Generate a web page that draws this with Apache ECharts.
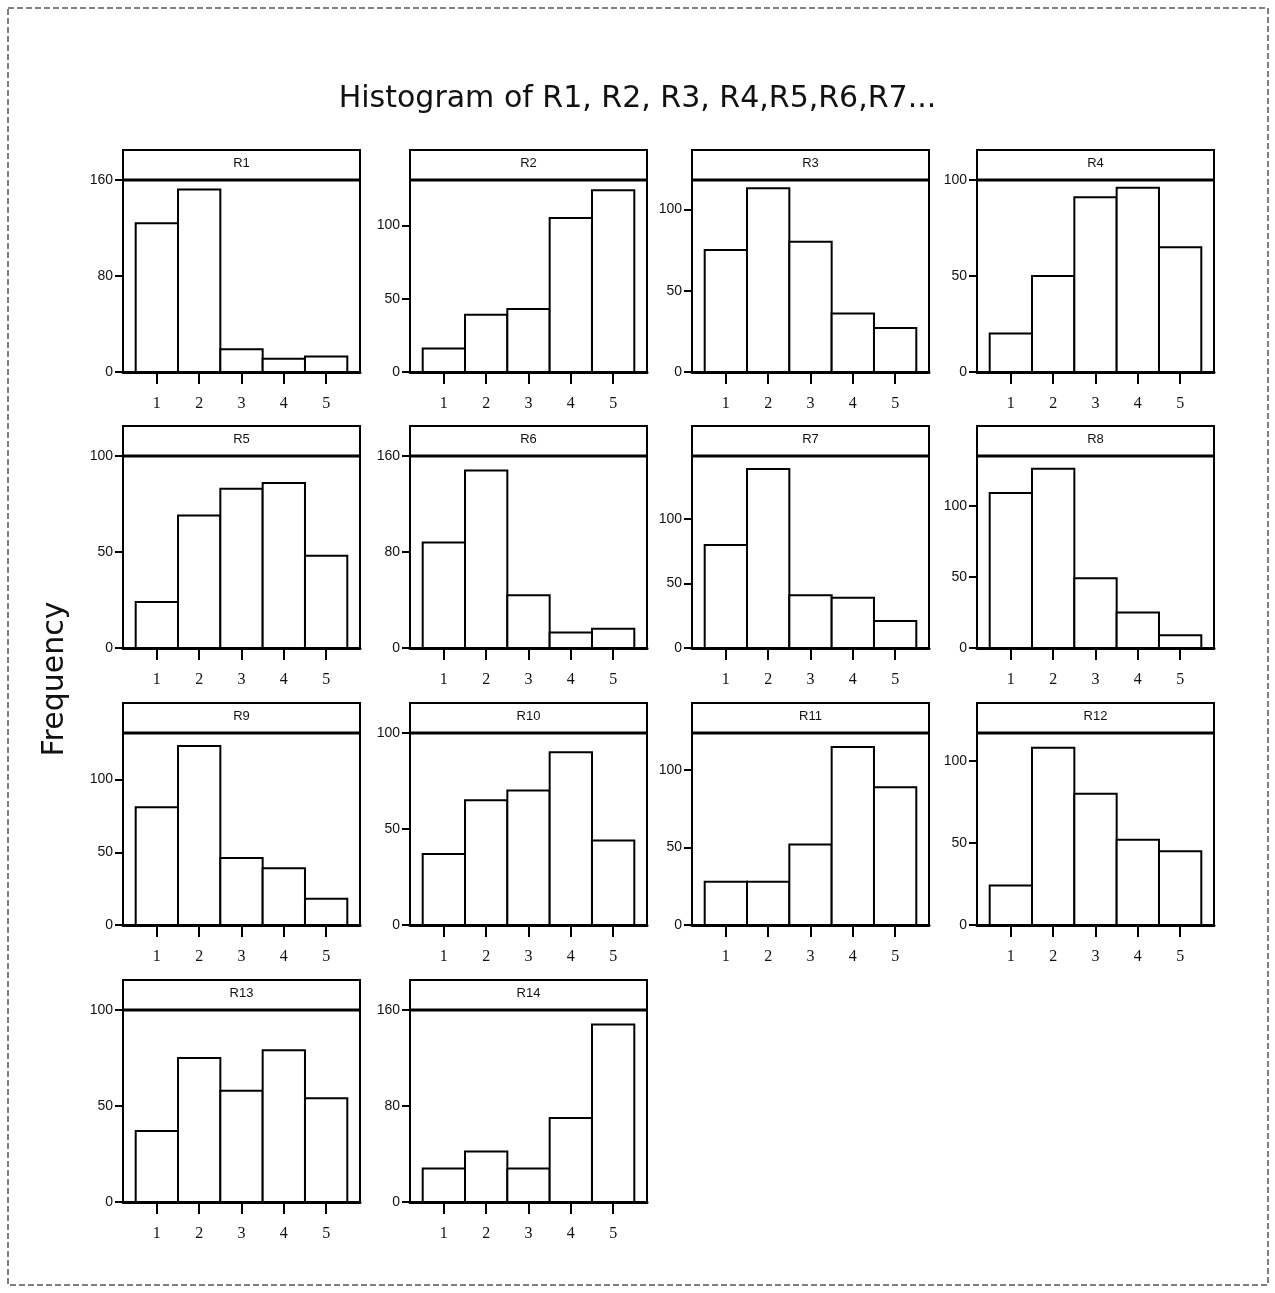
<!DOCTYPE html>
<html>
<head>
<meta charset="utf-8">
<title>Histogram of R1, R2, R3, R4,R5,R6,R7...</title>
<script src="https://cdn.jsdelivr.net/npm/echarts@6/dist/echarts.min.js"></script>
<style>
  html, body { margin: 0; padding: 0; background: #fff; }
  #chart { width: 1275px; height: 1293px; }
</style>
</head>
<body>
<div id="chart"></div>
<script>
// Response categories (bin centres) shared by every panel
const categories = [1, 2, 3, 4, 5];

// Frequency of each response, one list per item
const R1  = [124, 152, 19, 11, 13];
const R2  = [16, 39, 43, 105, 124];
const R3  = [75, 113, 80, 36, 27];
const R4  = [20, 50, 91, 96, 65];
const R5  = [24, 69, 83, 86, 48];
const R6  = [88, 148, 44, 13, 16];
const R7  = [80, 139, 41, 39, 21];
const R8  = [109, 126, 49, 25, 9];
const R9  = [81, 123, 46, 39, 18];
const R10 = [37, 65, 70, 90, 44];
const R11 = [28, 28, 52, 115, 89];
const R12 = [24, 108, 80, 52, 45];
const R13 = [37, 75, 58, 79, 54];
const R14 = [28, 42, 28, 70, 148];

const panelNames = ['R1', 'R2', 'R3', 'R4', 'R5', 'R6', 'R7', 'R8', 'R9', 'R10', 'R11', 'R12', 'R13', 'R14'];
const panelValues = [R1, R2, R3, R4, R5, R6, R7, R8, R9, R10, R11, R12, R13, R14];

// Frequency tick labels and the top of each panel's frequency scale
const ticksA = [0, 50, 100];
const ticksB = [0, 80, 160];
const panelTicks = [ticksB, ticksA, ticksA, ticksA, ticksA, ticksB, ticksA,
                    ticksA, ticksA, ticksA, ticksA, ticksA, ticksA, ticksB];
const axisMax = [160, 131, 118, 100, 100, 160, 149, 135, 132, 100, 124, 117, 100, 160];

// Panel grid geometry (pixels)
const colLeft = [123, 410, 692, 977];
const rowTop = [180, 456, 733, 1010];
const plotW = 237;
const plotH = 192;
const stripH = 30;

const grids = [], xAxes = [], yAxes = [], series = [], graphics = [];

panelNames.forEach((name, i) => {
  const col = i % 4, row = Math.floor(i / 4);
  const left = colLeft[col], top = rowTop[row];

  grids.push({
    left: left, top: top, width: plotW, height: plotH,
    show: true, borderColor: '#000', borderWidth: 2, backgroundColor: '#fff'
  });

  xAxes.push({
    gridIndex: i, type: 'value', min: 0.2, max: 5.8,
    splitLine: { show: false },
    axisLine: { show: true, onZero: false, lineStyle: { color: '#000', width: 3 } },
    axisTick: { show: true, customValues: categories, length: 12, lineStyle: { color: '#000', width: 2 } },
    axisLabel: { customValues: categories, margin: 24, color: '#111', fontSize: 16, fontFamily: 'Liberation Serif' }
  });

  yAxes.push({
    gridIndex: i, type: 'value', min: 0, max: axisMax[i],
    splitLine: { show: false },
    axisLine: { show: true, lineStyle: { color: '#000', width: 2 } },
    axisTick: { show: true, customValues: panelTicks[i], length: 8, lineStyle: { color: '#000', width: 2 } },
    axisLabel: { customValues: panelTicks[i], margin: 10, color: '#111', fontSize: 14, fontFamily: 'Liberation Sans Narrow, Liberation Sans' }
  });

  series.push({
    type: 'custom',
    name: name,
    xAxisIndex: i, yAxisIndex: i,
    clip: true,
    data: panelValues[i].map((v, k) => [categories[k], v]),
    encode: { x: 0, y: 1 },
    renderItem: (params, api) => {
      const x = api.value(0), y = api.value(1);
      const topLeft = api.coord([x - 0.5, y]);
      const bottomRight = api.coord([x + 0.5, 0]);
      return {
        type: 'rect',
        shape: {
          x: topLeft[0], y: topLeft[1],
          width: bottomRight[0] - topLeft[0],
          height: bottomRight[1] - topLeft[1]
        },
        style: { fill: '#fff', stroke: '#000', lineWidth: 2 }
      };
    }
  });

  // Panel header strip with the item name
  graphics.push({
    type: 'rect', z: 10,
    shape: { x: left, y: top - stripH, width: plotW, height: stripH },
    style: { fill: '#fff', stroke: '#000', lineWidth: 2 }
  });
  graphics.push({
    type: 'line', z: 11,
    shape: { x1: left, y1: top, x2: left + plotW, y2: top },
    style: { stroke: '#000', lineWidth: 3 }
  });
  graphics.push({
    type: 'text', z: 12,
    x: left + plotW / 2, y: top - stripH / 2 - 2,
    style: { text: name, fill: '#111', font: '13px "Liberation Sans Narrow", "Liberation Sans"', align: 'center', verticalAlign: 'middle' }
  });
});

// Outer frame of the figure
graphics.push({
  type: 'rect', z: 0,
  shape: { x: 8, y: 8, width: 1260, height: 1277 },
  style: { fill: 'none', stroke: '#555', lineWidth: 1.5, lineDash: [6, 3] }
});

// Shared frequency label
graphics.push({
  type: 'text', z: 12,
  x: 55, y: 679, rotation: Math.PI / 2,
  style: { text: 'Frequency', fill: '#111', font: '30px "DejaVu Sans"', align: 'center', verticalAlign: 'middle' }
});

const chart = echarts.init(document.getElementById('chart'), null, { renderer: 'canvas' });
chart.setOption({
  backgroundColor: '#fff',
  animation: false,
  title: {
    text: 'Histogram of R1, R2, R3, R4,R5,R6,R7...',
    left: 'center', top: 79,
    textStyle: { color: '#111', fontSize: 30, fontWeight: 'normal', fontFamily: 'DejaVu Sans' }
  },
  grid: grids,
  xAxis: xAxes,
  yAxis: yAxes,
  series: series,
  graphic: graphics
});
</script>
</body>
</html>
